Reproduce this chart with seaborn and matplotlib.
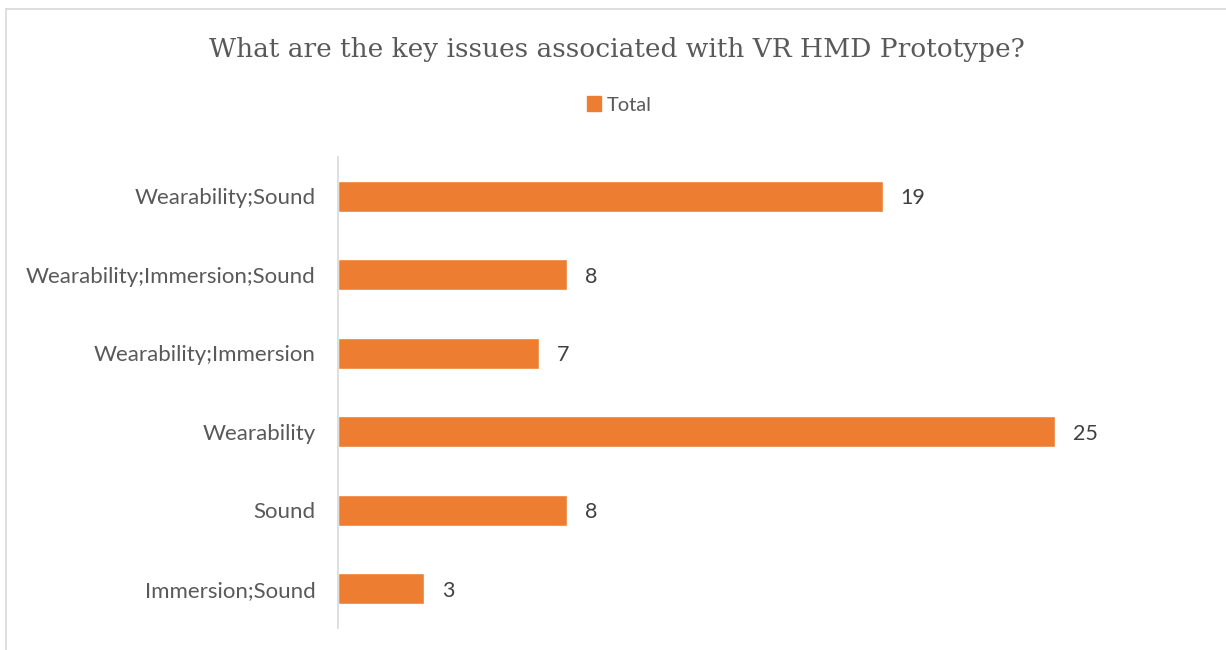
import matplotlib
matplotlib.use("Agg")
import pandas as pd
import seaborn as sns
import matplotlib.pyplot as plt
from matplotlib.lines import Line2D
from matplotlib.patches import Patch

categories = [
    "Wearability;Sound",
    "Wearability;Immersion;Sound",
    "Wearability;Immersion",
    "Wearability",
    "Sound",
    "Immersion;Sound",
]
totals = [19, 8, 7, 25, 8, 3]

BAR = "#ED7D31"
GREY = "#D9D9D9"
TXT = "#595959"

sns.set_style("white")
plt.rcParams["font.family"] = ["Lato", "DejaVu Sans"]

df = pd.DataFrame({"issue": categories, "total": totals})

fig = plt.figure(figsize=(12.26, 6.5), dpi=100, facecolor="w")
ax = fig.add_axes([338 / 1226, 1 - 628 / 650, (1198 - 338) / 1226, (628 - 157) / 650])

sns.barplot(data=df, x="total", y="issue", orient="h", color=BAR,
            width=0.4, saturation=1, ax=ax)

ax.set_xlim(0, 30)
ax.set_ylim(5.5, -0.5)
ax.set_xlabel("")
ax.set_ylabel("")
ax.set_xticks([])
for s in ["top", "right", "bottom"]:
    ax.spines[s].set_visible(False)
ax.spines["left"].set_color(GREY)
ax.spines["left"].set_linewidth(1.2)
ax.tick_params(axis="y", length=0, pad=16, labelsize=16, labelcolor=TXT)

for i, v in enumerate(totals):
    ax.annotate(str(v), (v, i), xytext=(13, -1.5), textcoords="offset points",
                va="center", ha="left", fontsize=15.5, color="#404040")

fig.text(0.503, 1 - 49 / 650, "What are the key issues associated with VR HMD Prototype?",
         ha="center", va="center", fontsize=19, color=TXT,
         family=["DejaVu Serif"])

fig.legend(handles=[Patch(color=BAR, label="Total")], loc="center",
           bbox_to_anchor=(0.505, 1 - 105 / 650), frameon=False,
           fontsize=14.5, labelcolor=TXT, handlelength=0.7, handleheight=0.7,
           handletextpad=0.3)

# chart frame (only top and left edges show in the crop)
fig.add_artist(Line2D([6 / 1226, 6 / 1226], [0, 1 - 9 / 650], color=GREY, lw=1.2))
fig.add_artist(Line2D([6 / 1226, 1], [1 - 9 / 650, 1 - 9 / 650], color=GREY, lw=1.2))

plt.savefig("out.png", dpi=100, facecolor="w")
